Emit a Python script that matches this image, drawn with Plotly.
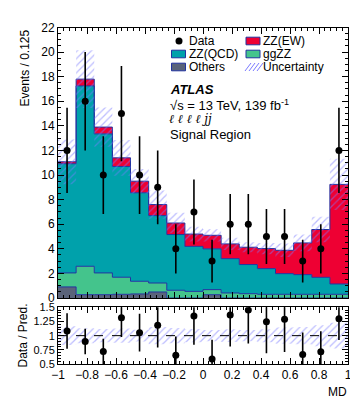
import numpy as np
import plotly.graph_objects as go

W, H = 358, 404

# binning of MD (16 bins of 0.125)
bin_edges = [-1.0, -0.875, -0.75, -0.625, -0.5, -0.375, -0.25, -0.125, 0.0,
             0.125, 0.25, 0.375, 0.5, 0.625, 0.75, 0.875, 1.0]

# events per bin
data_counts = [12, 16, 10, 15, 10, 9, 4, 7, 3, 6, 6, 5, 5, 3, 4, 12]
others = [0.90, 0.27, 0.27, 0.30, 0.33, 0.49, 0.0, 0.0, 0.27, 0.0, 0.0, 0.0, 0.0, 0.0, 0.0, 0.0]
ggzz = [1.14, 2.31, 1.77, 1.39, 1.03, 0.73, 0.63, 0.54, 0.41, 0.41, 0.35, 0.30, 0.30, 0.30, 0.30, 0.30]
zz_qcd = [8.88, 14.67, 11.31, 9.01, 7.20, 5.48, 4.53, 3.66, 3.32, 2.79, 2.37, 2.09, 1.68, 1.60, 1.38, 0.84]
zz_ew = [0.16, 0.55, 0.55, 0.70, 0.94, 0.90, 0.94, 1.00, 1.10, 1.20, 1.41, 1.63, 1.90, 2.58, 3.89, 8.10]
total_unc = [1.82, 2.35, 1.60, 1.45, 1.00, 1.15, 0.83, 0.60, 0.50, 0.50, 0.41, 0.46, 0.55, 0.68, 1.03, 2.09]

C_QCD = "#00a1ab"
C_EW = "#ee0033"
C_GG = "#44c48c"
C_OTH = "#5a637a"
C_LINE = "#2233a0"
C_HATCH = "#7a7aff"
FONT = "Liberation Sans, Arial, sans-serif"

edges = np.array(bin_edges)
centers = 0.5 * (edges[:-1] + edges[1:])
data = np.array(data_counts, dtype=float)

# stack, bottom to top
components = [("Others", others, C_OTH), ("ggZZ", ggzz, C_GG),
              ("ZZ(QCD)", zz_qcd, C_QCD), ("ZZ(EW)", zz_ew, C_EW)]
cum = np.cumsum([np.array(c[1]) for c in components], axis=0)
total = cum[-1]
unc = np.array(total_unc)


def step(vals):
    v = list(vals)
    return v + [v[-1]]


fig = go.Figure()

# zero baseline for the first fill
fig.add_trace(go.Scatter(x=edges, y=step(np.zeros(16)), mode="lines", line=dict(width=0, shape="hv"),
                         xaxis="x", yaxis="y", hoverinfo="skip"))
for (name, _, col), top in zip(components, cum):
    fig.add_trace(go.Scatter(x=edges, y=step(top), mode="lines", name=name,
                             line=dict(color=C_LINE, width=1, shape="hv"),
                             fill="tonexty", fillcolor=col, xaxis="x", yaxis="y"))

hatch = dict(shape="/", fgcolor=C_HATCH, bgcolor="rgba(0,0,0,0)", size=5, solidity=0.25)

# uncertainty band on the prediction
fig.add_trace(go.Scatter(x=edges, y=step(total - unc), mode="lines", line=dict(width=0, shape="hv"),
                         xaxis="x", yaxis="y", hoverinfo="skip"))
fig.add_trace(go.Scatter(x=edges, y=step(total + unc), mode="lines", line=dict(width=0, shape="hv"),
                         fill="tonexty", fillcolor="rgba(0,0,0,0)", fillpattern=hatch,
                         xaxis="x", yaxis="y"))

fig.add_trace(go.Scatter(x=centers, y=data, mode="markers", name="Data",
                         marker=dict(color="black", size=7),
                         error_y=dict(type="data", array=np.sqrt(data), color="black", thickness=1.6, width=0),
                         xaxis="x", yaxis="y"))

# ratio panel
rel = unc / total
fig.add_trace(go.Scatter(x=edges, y=step(1 - rel), mode="lines", line=dict(width=0, shape="hv"),
                         xaxis="x2", yaxis="y2", hoverinfo="skip"))
fig.add_trace(go.Scatter(x=edges, y=step(1 + rel), mode="lines", line=dict(width=0, shape="hv"),
                         fill="tonexty", fillcolor="rgba(0,0,0,0)", fillpattern=hatch,
                         xaxis="x2", yaxis="y2"))
fig.add_trace(go.Scatter(x=[-1, 1], y=[1, 1], mode="lines", line=dict(color="black", width=1, dash="dash"),
                         xaxis="x2", yaxis="y2"))
fig.add_trace(go.Scatter(x=centers, y=data / total, mode="markers",
                         marker=dict(color="black", size=7),
                         error_y=dict(type="data", array=np.sqrt(data) / total, color="black", thickness=1.6, width=0),
                         xaxis="x2", yaxis="y2"))


def px(x):
    return x / W


def py(y):
    return 1 - y / H


axis_common = dict(showline=True, linecolor="black", linewidth=1, mirror="ticks",
                   ticks="inside", ticklen=6, tickwidth=1, tickcolor="black",
                   showgrid=False, zeroline=False, automargin=False)

tick12 = dict(size=12, color="black", family=FONT)
tick11 = dict(size=11, color="black", family=FONT)

xdom = [px(50), px(340)]
fig.update_layout(
    width=W, height=H, margin=dict(l=0, r=0, t=0, b=0),
    paper_bgcolor="white", plot_bgcolor="white", showlegend=False,
    font=dict(family=FONT, color="black", size=12),
    xaxis=dict(domain=xdom, range=[-1, 1], anchor="y", tick0=-1, dtick=0.2, showticklabels=False,
               tickfont=tick12,
               minor=dict(ticks="inside", ticklen=3, dtick=0.04, tickcolor="black"), **axis_common),
    yaxis=dict(domain=[py(290), py(19.5)], range=[0, 22], anchor="x", tick0=0, dtick=2,
               tickfont=tick12,
               minor=dict(ticks="inside", ticklen=3, dtick=0.5, tickcolor="black"), **axis_common),
    xaxis2=dict(domain=xdom, range=[-1, 1], anchor="y2", tick0=-1, dtick=0.2,
                tickfont=tick12,
                minor=dict(ticks="inside", ticklen=3, dtick=0.04, tickcolor="black"), **axis_common),
    yaxis2=dict(domain=[py(356), py(299.3)], range=[0.5, 1.5], anchor="x2",
                tickvals=[0.5, 0.75, 1, 1.25, 1.5], ticktext=["0.5", "0.75", "1", "1.25", "1.5"],
                tickfont=tick11,
                minor=dict(ticks="inside", ticklen=3, dtick=0.05, tickcolor="black"), **axis_common),
)

ann = []


def text(x, y, s, size=12, xanchor="left", yanchor="middle", angle=0, family=FONT):
    ann.append(dict(x=px(x), y=py(y), xref="paper", yref="paper", text=s, showarrow=False,
                    xanchor=xanchor, yanchor=yanchor, textangle=angle,
                    font=dict(size=size, family=family, color="black")))


text(16, 20, "Events / 0.125", yanchor="top", xanchor="center", angle=-90)
text(14, 327.5, "Data / Pred.", yanchor="middle", xanchor="center", angle=-90)
text(341, 384, "MD", xanchor="right")

# legend, drawn by hand (two columns)
rows = [33, 46, 59]
text(179, rows[0], "Data")
text(179, rows[1], "ZZ(QCD)")
text(179, rows[2], "Others")
text(253, rows[0], "ZZ(EW)")
text(253, rows[1], "ggZZ")
text(253, rows[2], "Uncertainty")

# labels
text(160, 82, "<b><i>ATLAS</i></b>", size=13)
text(160, 96.5, "√s = 13 TeV, 139 fb<sup>-1</sup>", size=13)
text(159, 111, "<i>ℓ ℓ ℓ ℓ jj</i>", size=12, family="DejaVu Serif")
text(160, 126, "Signal Region", size=13)

shapes = []


def swatch(x0, yc, col):
    shapes.append(dict(type="rect", xref="paper", yref="paper", x0=px(x0), x1=px(x0 + 14),
                       y0=py(yc + 3.8), y1=py(yc - 3.8), fillcolor=col, line=dict(color=C_LINE, width=1)))


shapes.append(dict(type="circle", xref="paper", yref="paper", x0=px(167.5), x1=px(174.5),
                   y0=py(36.5), y1=py(29.5), fillcolor="black", line=dict(color="black", width=0)))
swatch(163.5, rows[1], C_QCD)
swatch(163.5, rows[2], C_OTH)
swatch(238, rows[0], C_EW)
swatch(238, rows[1], C_GG)
# hatched swatch
for k in range(4):
    xa = 238 + k * 4
    shapes.append(dict(type="line", xref="paper", yref="paper", x0=px(xa - 1), y0=py(rows[2] + 4),
                       x1=px(xa + 5), y1=py(rows[2] - 4), line=dict(color=C_HATCH, width=1)))

fig.update_layout(annotations=ann, shapes=shapes)
fig.write_html("out.html")
